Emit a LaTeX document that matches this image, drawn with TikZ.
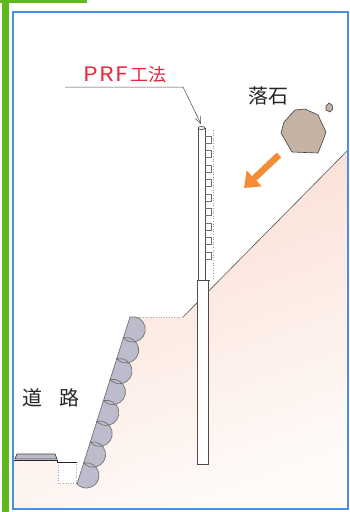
\documentclass[tikz,border=0pt]{standalone}
\usepackage{fontspec}
\newfontfamily\jpfont{Noto Sans CJK JP}
\definecolor{FrameBlue}{RGB}{70,145,228}
\definecolor{BarGreen}{RGB}{95,185,30}
\definecolor{SoilPink}{RGB}{250,220,208}
\definecolor{ShotGrey}{RGB}{188,188,204}
\definecolor{RockTan}{RGB}{196,178,162}
\definecolor{FallOrange}{RGB}{243,140,52}
\definecolor{LabelRed}{RGB}{232,40,60}
\usetikzlibrary{arrows.meta, positioning, calc}

\begin{document}
\begin{tikzpicture}[x=1pt, y=-1pt,
    outline/.style={draw=black!65, line width=0.6pt},
    berm/.style={draw=black!35, dotted, line width=0.6pt},
    shot/.style={draw=black!55, fill=ShotGrey, line width=0.7pt},
    pile/.style={draw=black!70, fill=white, line width=0.7pt},
    panel/.style={draw=black!55, line width=0.5pt},
    rock/.style={draw=black!75, fill=RockTan, line width=0.6pt},
    fall/.style={FallOrange, line width=6.5pt,
                 -{Triangle[length=14pt, width=21pt]}},
    leader/.style={draw=black!70, line width=0.5pt,
                   -{Straight Barb[length=7pt, width=6pt]}},
    label/.style={font=\jpfont\fontsize{20}{20}\selectfont, text=black!85}
  ]
  \useasboundingbox (0,0) rectangle (349,512);
  \fill[white] (0,0) rectangle (349,512);
  \fill[BarGreen] (2,0) rectangle (8.5,512);
  \fill[BarGreen] (0,0) rectangle (87,3);

  % ground
  \shade[top color=SoilPink, bottom color=SoilPink!12, shading angle=20]
    (13,460) -- (58,460) -- (58,483) -- (77,483) -- (130,317) -- (183,317)
    -- (348,150) -- (348,508) -- (13,508) -- cycle;
  \draw[outline] (183,317) -- (348,150);
  \draw[berm] (130,317) -- (183,317);
  \draw[berm] (58,462) rectangle (76,483);

  % road and side ditch
  \draw[shot, draw=black!75] (15,459) -- (17,454) -- (55,454) -- (57,459) -- cycle;
  \draw[black!85, line width=0.9pt] (13,460) -- (57,460) -- (57,462) -- (77,462);

  % sprayed facing on the cut slope
  \draw[shot] (130,317)
    \foreach \k in {1,...,8} {arc[start angle=-102.4, end angle=137.6, radius=12.64]}
    -- cycle;

  % pile with panels
  \draw[pile] (197,280) rectangle (208,464);
  \draw[pile] (198,280) rectangle (205,128);
  \draw[pile] (201.5,128) ellipse [x radius=3.5, y radius=1.5];
  \draw[pile] (198,280) -- (210,280);
  \foreach \y in {136,150.5,...,266}
    \draw[panel] (205,\y) -| (211,\y+7) -- (205,\y+7);
  \draw[berm, draw=black!40] (213,130) -- (213,280);
  \coordinate (pileTop) at (201,124);

  % rock and its path
  \draw[rock] (284,122) -- (295,110) -- (305,109) -- (318,115) -- (326,132)
    -- (322,143) -- (318,153) -- (292,152) -- (281,133) -- cycle;
  \draw[rock] (326,106) -- (329,103) -- (332,105) -- (333,109) -- (330,112)
    -- (326,110) -- cycle;
  \coordinate (fallFrom) at (279,155);
  \coordinate (fallTo) at (244,188);
  \draw[fall] (fallFrom) -- (fallTo);

  % labels
  \node[font=\jpfont\fontsize{18}{18}\selectfont, text=LabelRed, inner sep=0pt]
    (prf) at (125,75)
    {{\fontsize{20}{20}\selectfont\scalebox{1.15}[1]{P\kern1pt R\kern1pt F}}\kern2pt 工法};
  \coordinate (leadL) at (65,87);
  \coordinate (leadR) at (183,87);
  \draw[leader] (leadL) -- (leadR) -- (pileTop);
  \node[label] (rakuseki) at (268,96) {落石};
  \node[label] (road) at (51,398) {道\hspace{0.85em}路};

  \draw[FrameBlue, line width=2pt] (13,12) rectangle (347.5,509);
\end{tikzpicture}
\end{document}
